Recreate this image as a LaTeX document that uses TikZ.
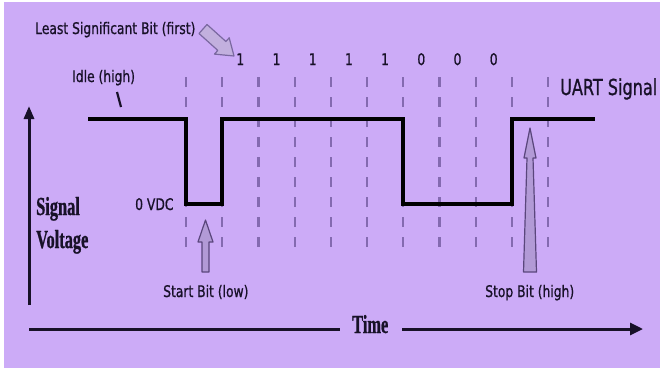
\documentclass[tikz,border=0pt]{standalone}
\usepackage{fontspec}
\usetikzlibrary{arrows.meta}
\newfontfamily\labfont[FakeStretch=0.77,FakeBold=0.8]{DejaVu Sans}
\newfontfamily\titlefont[FakeStretch=0.73,FakeBold=0.8]{DejaVu Sans}
\newfontfamily\axisfont[FakeStretch=0.63,FakeBold=0.8]{Liberation Serif}
\definecolor{bgcol}{RGB}{204,171,247}
\definecolor{inkcol}{RGB}{24,17,40}
\definecolor{gridcol}{RGB}{132,106,176}
\definecolor{pointerfill}{RGB}{178,154,214}
\definecolor{pointerline}{RGB}{90,70,124}
\definecolor{lsbfill}{RGB}{194,176,222}
\definecolor{lsbline}{RGB}{122,104,160}
\tikzset{
  lab/.style={inner sep=0pt, anchor=base west, text=inkcol,
    font=\labfont\fontsize{16}{16}\selectfont},
  digit/.style={inner sep=0pt, anchor=base, text=inkcol,
    font=\labfont\fontsize{16}{16}\selectfont},
  title/.style={inner sep=0pt, anchor=base west, text=inkcol,
    font=\titlefont\fontsize{22}{22}\selectfont},
  axislab/.style={inner sep=0pt, anchor=base west, text=inkcol,
    font=\axisfont\bfseries\fontsize{26}{26}\selectfont},
  gridline/.style={draw=gridcol, line width=2.2pt, dash pattern=on 10pt off 10pt},
  signal/.style={draw=black, line width=4pt, miter limit=4},
  axisline/.style={draw=inkcol, line width=3pt},
  pointer/.style={draw=pointerline, fill=pointerfill, line width=1.2pt, line join=round},
}
\begin{document}
\begin{tikzpicture}[x=1pt,y=-1pt]
  % canvas
  \fill[white] (0,0) rectangle (660,370);
  \fill[bgcol] (4,2) rectangle (660,368);
  \useasboundingbox (0,0) rectangle (660,370);

  % bit boundaries
  \foreach \k in {0,...,10}
    \draw[gridline] ({186+36.2*\k},77) -- ({186+36.2*\k},250);

  % data bit values
  \foreach \k/\v in {1/1,2/1,3/1,4/1,5/1,6/0,7/0,8/0}
    \node[digit] (bit\k) at ({186+36.2*\k+18.1},65) {\v};

  % UART waveform
  \draw[signal] (88,119) -- (186,119) -- (186,204) -- (222.2,204) -- (222.2,119)
    -- (403.2,119) -- (403.2,204) -- (511.8,204) -- (511.8,119) -- (595,119);

  % labels
  \node[lab] (lsb) at (35,34) {Least Significant Bit (first)};
  \node[lab] (idle) at (72,82) {Idle (high)};
  \node[title] (uart) at (560,95) {UART Signal};
  \node[lab] (zero) at (135,210) {0 VDC};
  \node[lab] (start) at (163,297) {Start Bit (low)};
  \node[lab] (stop) at (485,297) {Stop Bit (high)};
  \node[axislab] (sig) at (36,215) {Signal};
  \node[axislab] (volt) at (36,248) {Voltage};
  \node[axislab] (time) at (352,333) {Time};

  % idle tick
  \draw[inkcol, line width=2.2pt] (117,92) -- (121,107);

  % LSB pointer
  \draw[pointer, draw=lsbline, fill=lsbfill] (207.0,24.5) -- (225.9,41.5) -- (229.2,37.8) -- (234,56)
    -- (214.5,54.1) -- (217.8,50.4) -- (199.0,33.5) -- cycle;

  % start bit pointer
  \draw[pointer] (205.5,220) -- (213,242) -- (209,242) -- (209,272)
    -- (202,272) -- (202,242) -- (198,242) -- cycle;

  % stop bit pointer
  \draw[pointer] (530,128) -- (536,158) -- (533,158) -- (536.5,272)
    -- (523.5,272) -- (527,158) -- (524,158) -- cycle;

  % axes
  \draw[axisline, -{Triangle[length=13pt,width=10pt]}] (29,305) -- (29,106);
  \draw[axisline] (29,329) -- (340,329);
  \draw[axisline, -{Triangle[length=13pt,width=12pt]}] (402,329) -- (643,329);
\end{tikzpicture}
\end{document}
